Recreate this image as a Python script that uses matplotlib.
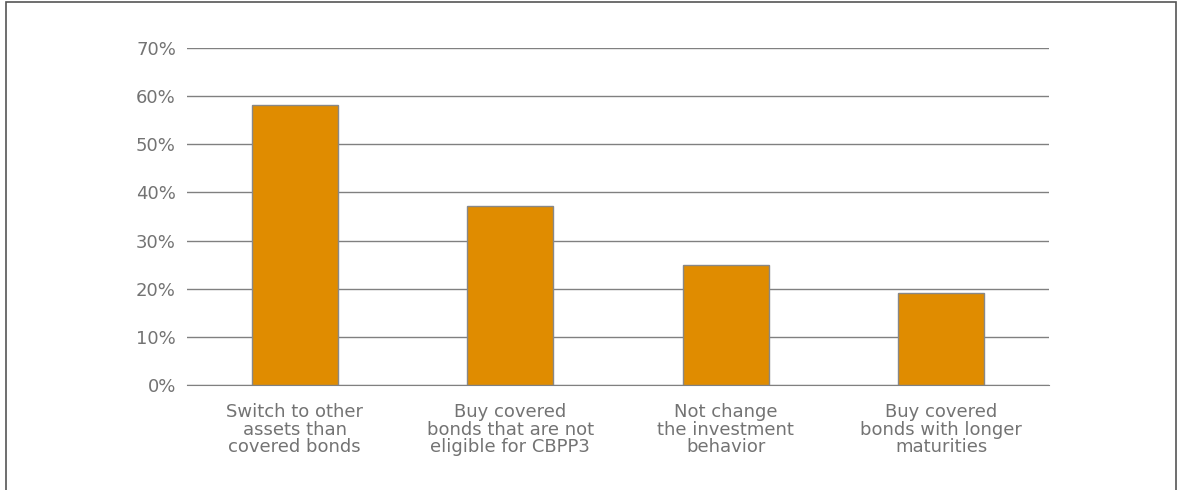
import matplotlib.pyplot as plt
from matplotlib.patches import Rectangle
from matplotlib.ticker import PercentFormatter

categories = [
    "Switch to other\nassets than\ncovered bonds",
    "Buy covered\nbonds that are not\neligible for CBPP3",
    "Not change\nthe investment\nbehavior",
    "Buy covered\nbonds with longer\nmaturities",
]
shares = [58.2, 37.2, 25.0, 19.1]
yticks = [0, 10, 20, 30, 40, 50, 60, 70]

W, H = 1179, 490
fig = plt.figure(figsize=(W / 100, H / 100), dpi=100)
ax = fig.add_axes([187 / W, 1 - 385 / H, (1049 - 187) / W, (385 - 48) / H])

x = range(len(categories))
ax.bar(x, shares, width=0.4, color="#e08c00", edgecolor="#888888", linewidth=1, zorder=3)

ax.set_xlim(-0.5, len(categories) - 0.5)
ax.set_ylim(0, 70)
ax.set_yticks(yticks)
ax.yaxis.set_major_formatter(PercentFormatter(decimals=0))
ax.grid(axis="y", color="#808080", linewidth=1, zorder=0)
ax.set_xticks(list(x))
ax.set_xticklabels(categories, linespacing=0.98)
ax.tick_params(axis="both", length=0, labelsize=13, labelcolor="#737373")
ax.tick_params(axis="y", pad=8)
ax.tick_params(axis="x", pad=13)
for side in ["top", "right", "left"]:
    ax.spines[side].set_visible(False)
ax.spines["bottom"].set_color("#808080")

# outer frame, open at the bottom
fig.patches.append(Rectangle((6 / W, -0.1), (1176 - 6) / W, 1.1 - 2 / H,
                             transform=fig.transFigure, fill=False,
                             edgecolor="#555555", linewidth=1.2))

fig.savefig("out.png", dpi=100)
